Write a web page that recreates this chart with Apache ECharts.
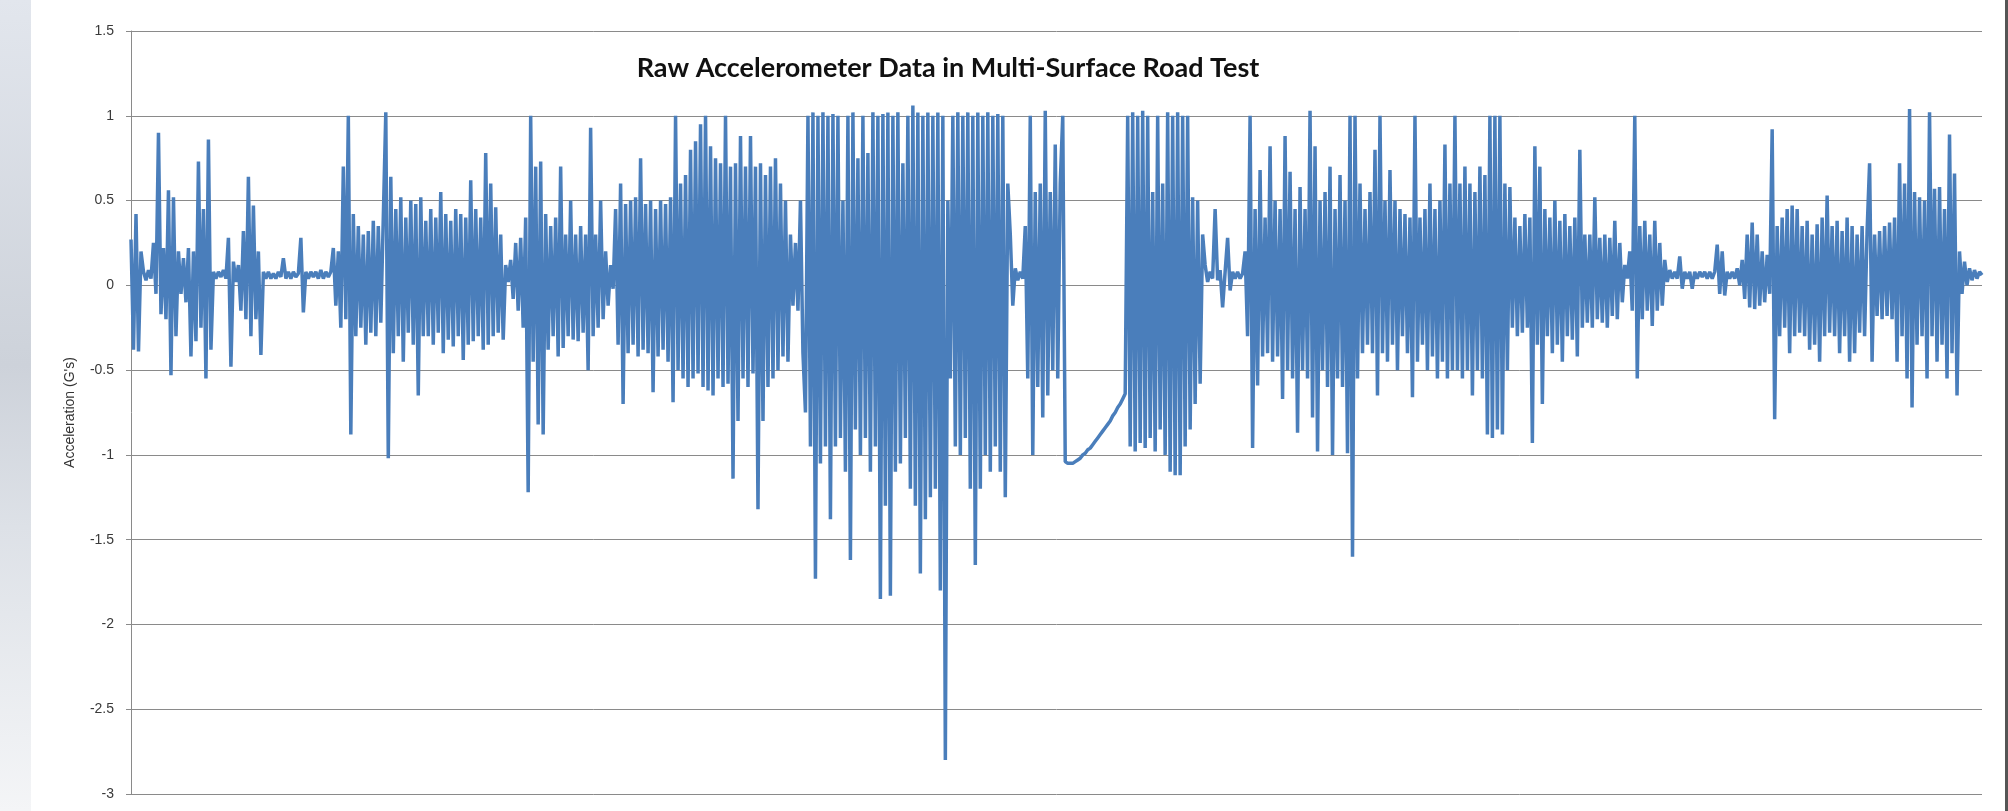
<!DOCTYPE html>
<html>
<head>
<meta charset="utf-8">
<title>Raw Accelerometer Data in Multi-Surface Road Test</title>
<script src="https://cdn.jsdelivr.net/npm/echarts@6.0.0/dist/echarts.min.js"></script>
<style>
    html, body { margin: 0; padding: 0; background: #fff; }
    #chart { width: 2008px; height: 811px; }
</style>
</head>
<body>
<div id="chart"></div>
<script>
    // acceleration samples (G's) left to right, one road stretch per array
    const startBumps = [0.27, -0.38, 0.42, -0.39, 0.2,
        0.08, 0.03, 0.09, 0.04,
        0.25, -0.05, 0.9, -0.17,
        0.22, -0.2, 0.56, -0.53, 0.52, -0.3,
        0.2, -0.05, 0.16, -0.1, 0.22, -0.42,
        0.2, -0.33, 0.73, -0.25, 0.45, -0.55, 0.86,
        -0.38, 0.08, 0.04, 0.08, 0.05, 0.09, 0.04,
        0.28, -0.48,
        0.14, 0.02, 0.12, -0.15, 0.32, -0.2, 0.64, -0.3, 0.47, -0.2, 0.2, -0.41,
        0.08, 0.04, 0.08, 0.04, 0.07, 0.04, 0.08, 0.05, 0.16, 0.04, 0.08, 0.04, 0.08, 0.05, 0.07,
        0.28, -0.16,
        0.08, 0.04, 0.08, 0.05, 0.08, 0.04, 0.09, 0.04, 0.08, 0.05, 0.08];

    const roughPatch1 = [0.22, -0.12, 0.2, -0.25, 0.7, -0.2,
        1.0, -0.88,
        0.42, -0.3, 0.35, -0.25, 0.3, -0.35, 0.32, -0.28, 0.38, -0.3, 0.35, -0.22, 0.4,
        1.02, -1.02,
        0.64, -0.4, 0.45, -0.3, 0.52, -0.45, 0.4, -0.28, 0.5, -0.35, 0.48, -0.65, 0.52, -0.3,
        0.38, -0.3, 0.45, -0.35, 0.4, -0.28, 0.55, -0.4, 0.42, -0.32, 0.38, -0.36, 0.45, -0.3, 0.42, -0.44,
        0.4, -0.35, 0.62, -0.33, 0.45, -0.3, 0.4, -0.38, 0.78, -0.35, 0.6, -0.3, 0.46, -0.28, 0.3, -0.32,
        0.12, 0.02];

    const roughPatch2 = [0.15, -0.08, 0.25, -0.15, 0.28, -0.25, 0.4, -1.22, 1.0, -0.45,
        0.7, -0.82, 0.73, -0.88, 0.42, -0.38, 0.35, -0.3, 0.4, -0.42,
        0.7, -0.37, 0.3, -0.3, 0.5, -0.32, 0.3, -0.33, 0.35, -0.28,
        0.3, -0.5, 0.93, -0.3, 0.3, -0.25, 0.5, -0.2, 0.2, -0.12, 0.12, -0.02,
        0.45, -0.35, 0.6, -0.7, 0.48, -0.4, 0.5, -0.35, 0.52, -0.42,
        0.75, -0.38, 0.48, -0.4, 0.5, -0.63, 0.45, -0.42, 0.5, -0.38,
        0.48, -0.45, 0.52, -0.69, 1.0, -0.5, 0.6, -0.55, 0.65, -0.6,
        0.8, -0.55, 0.85, -0.52, 0.95, -0.6, 1.0, -0.62, 0.82, -0.65,
        0.75, -0.55, 0.72, -0.6, 1.0, -0.58, 0.7, -1.14, 0.72, -0.8,
        0.88, -0.55, 0.7, -0.6, 0.88, -0.52, 0.7, -1.32, 0.72, -0.8,
        0.65, -0.6, 0.7, -0.55, 0.75, -0.5, 0.6, -0.42, 0.5, -0.45,
        0.3,
        -0.12, 0.25, -0.15, 0.5, -0.4];

    const heavyPatch1 = [-0.75, 1.0, -0.95, 1.02, -1.73, 1.0, -1.05, 1.02, -0.95, 1.0,
        -1.38, 1.01, -0.95, 1.0, -0.9, 0.5, -1.1, 1.0, -1.62, 1.02,
        -0.85, 0.75, -1.0, 1.0, -0.9, 0.78, -1.1, 1.02, -0.95, 1.0,
        -1.85, 1.01, -1.3, 1.02, -1.83, 1.0, -1.1, 1.02, -1.05, 0.72,
        -0.9, 1.0, -1.2, 1.06, -1.3, 1.02, -1.7, 1.0, -1.38, 1.02,
        -1.25, 1.0, -1.2, 1.02, -1.8, 1.0, -2.8, 0.5, -0.55, 1.0,
        -0.95, 1.02, -1.0, 1.0, -0.9, 1.02, -1.2, 1.0, -1.65, 1.02,
        -1.2, 1.0, -1.0, 1.02, -1.1, 1.0, -0.95, 1.01, -1.1, 1.0,
        -1.25, 0.6];

    const gapBurst = [0.3, -0.12, 0.1, 0.03, 0.08, 0.04, 0.35,
        -0.55, 1.0, -1.0, 0.55, -0.6, 0.6, -0.78, 1.03, -0.65, 0.55, -0.5, 0.83, -0.55, 0.6, 1.0];

    // sensor dropout: slow recovery curve
    const dropout = [-1.04, -1.05, -1.05, -1.05, -1.04, -1.03, -1.02, -1.0, -0.99, -0.97,
        -0.96, -0.94, -0.92, -0.9, -0.88, -0.86, -0.84, -0.82, -0.8, -0.77,
        -0.75, -0.72, -0.7, -0.67, -0.64];

    const heavyPatch2 = [1.0, -0.95, 1.02, -0.98, 1.0, -0.93, 1.03, -0.96, 1.0, -0.9,
        0.55, -0.98, 1.0, -0.85, 0.6, -1.0, 1.02, -1.1, 1.0, -1.12,
        1.02, -1.12, 1.0, -0.95, 1.0, -0.85, 0.52, -0.7, 0.5, -0.58,
        0.3];

    const quiet2 = [0.12, 0.02, 0.08, 0.04, 0.45, 0.03, 0.09, -0.13, 0.08, 0.28,
        -0.03, 0.08, 0.04, 0.08, 0.04, 0.07, 0.2];

    const roughPatch3 = [-0.3, 1.0, -0.96, 0.45, -0.59, 0.68, -0.42, 0.4, -0.4, 0.82,
        -0.45, 0.5, -0.42, 0.45, -0.67, 0.88, -0.5, 0.67, -0.55, 0.45,
        -0.87, 0.58, -0.5, 0.45, -0.55, 1.03, -0.78, 0.82, -0.98, 0.5,
        -0.5, 0.55, -0.6, 0.7, -1.0, 0.45, -0.55, 0.65, -0.6, 0.5,
        -0.99, 1.0, -1.6, 1.0, -0.55, 0.6, -0.4, 0.45,
        -0.35, 0.55, -0.4, 0.8, -0.65, 1.0, -0.4, 0.5, -0.45, 0.68,
        -0.35, 0.5, -0.5, 0.45, -0.3, 0.42, -0.4, 0.4, -0.66, 1.0,
        -0.45, 0.4, -0.35, 0.45, -0.5, 0.6, -0.42, 0.45, -0.55, 0.5,
        -0.45, 0.83, -0.55, 0.6, -0.5, 1.0, -0.5, 0.6, -0.55, 0.7,
        -0.5, 0.6, -0.65, 0.55, -0.5, 0.7, -0.55, 0.65, -0.88, 1.0,
        -0.9, 1.0, -0.85, 1.0, -0.88, 0.6,
        -0.5, 0.58, -0.25, 0.4, -0.3, 0.35, -0.28, 0.42, -0.25, 0.4,
        -0.93, 0.82, -0.35, 0.7, -0.7, 0.45, -0.3, 0.4, -0.4, 0.5,
        -0.35, 0.38, -0.45, 0.42, -0.3, 0.35, -0.32, 0.4, -0.42, 0.8,
        -0.25, 0.3, -0.22, 0.3, -0.25, 0.52, -0.2, 0.28, -0.22, 0.3,
        -0.25, 0.28, -0.18, 0.38, -0.2, 0.25, -0.1, 0.12];

    const tailBurst = [0.04, 0.2, -0.15, 1.0, -0.55, 0.35, -0.2, 0.38, -0.15, 0.3,
        -0.24, 0.38, -0.15, 0.25, -0.12, 0.15];

    const quiet3 = [0.02, 0.09, 0.04, 0.08, 0.04, 0.17, -0.02, 0.08, 0.04, 0.08,
        -0.02, 0.08, 0.04, 0.08, 0.05, 0.08, 0.04, 0.08, 0.04, 0.08,
        0.24, -0.05, 0.2, -0.06, 0.08, 0.04, 0.08, 0.04];

    const endPatch = [0.1, 0.0, 0.15, -0.08, 0.3, -0.13, 0.37, -0.14, 0.3, -0.12,
        0.2, -0.1, 0.18, -0.05,
        0.92, -0.79, 0.35, -0.3, 0.4, -0.25, 0.45, -0.4, 0.47, -0.3,
        0.45, -0.28, 0.35, -0.3, 0.38, -0.38, 0.3, -0.35, 0.36, -0.45,
        0.4, -0.3, 0.53, -0.28, 0.35, -0.3, 0.38, -0.4, 0.32, -0.3,
        0.4, -0.45, 0.35, -0.4, 0.3, -0.28, 0.35, -0.3, 0.32, 0.72,
        -0.45, 0.3, -0.18, 0.32, -0.2, 0.35, -0.18, 0.37, -0.2, 0.4,
        -0.45,
        0.72, -0.3, 0.6, -0.55, 1.04, -0.72, 0.55, -0.35, 0.52, -0.3,
        0.5, -0.55, 1.02, -0.3, 0.57, -0.45, 0.58, -0.35, 0.45, -0.55,
        0.89, -0.4, 0.66, -0.65,
        0.2, -0.05, 0.14, 0.0, 0.1, 0.03, 0.09, 0.04, 0.08, 0.06];

    const yTicks = { min: -3, max: 1.5, step: 0.5 };
    const titleText = 'Raw Accelerometer Data in Multi-Surface Road Test';
    const yName = "Acceleration (G's)";

    const accel = [].concat(startBumps, roughPatch1, roughPatch2, heavyPatch1, gapBurst,
        dropout, heavyPatch2, quiet2, roughPatch3, tailBurst, quiet3, endPatch);
    const samples = accel.map((v, i) => i);

    const chart = echarts.init(document.getElementById('chart'));
    const option = {
        animation: false,
        backgroundColor: '#fff',
        grid: {
            left: 131,
            right: 26,
            top: 31,
            bottom: 17
        },
        xAxis: {
            type: 'category',
            data: samples,
            boundaryGap: false,
            axisLine: { show: false },
            axisTick: { show: false },
            axisLabel: { show: false },
            splitLine: { show: false }
        },
        yAxis: {
            type: 'value',
            min: yTicks.min,
            max: yTicks.max,
            interval: yTicks.step,
            name: yName,
            nameLocation: 'middle',
            nameRotate: 90,
            nameGap: 54,
            nameTextStyle: {
                fontSize: 14,
                fontFamily: 'Liberation Sans, Arial, sans-serif',
                color: '#333'
            },
            axisLine: { show: true, lineStyle: { color: '#8a8a8a', width: 1 } },
            axisTick: { show: true, length: 5, lineStyle: { color: '#8a8a8a' } },
            axisLabel: {
                margin: 17,
                fontSize: 14,
                fontFamily: 'Liberation Sans, Arial, sans-serif',
                color: '#3a3a3a'
            },
            splitLine: { show: true, lineStyle: { color: '#8a8a8a', width: 1 } }
        },
        graphic: [
            {
                type: 'rect',
                left: 0,
                top: 0,
                z: -10,
                shape: { width: 31, height: 811 },
                style: {
                    fill: {
                        type: 'linear', x: 0, y: 0, x2: 0, y2: 1,
                        colorStops: [
                            { offset: 0, color: '#e2e6ed' },
                            { offset: 0.45, color: '#cdd2da' },
                            { offset: 0.65, color: '#dde1e7' },
                            { offset: 1, color: '#f4f5f7' }
                        ]
                    }
                }
            },
            {
                type: 'rect',
                left: 2005,
                top: 0,
                shape: { width: 3, height: 811 },
                style: { fill: '#555' }
            },
            {
                type: 'text',
                x: 948,
                y: 68,
                style: {
                    text: titleText,
                    fontSize: 27,
                    fontWeight: 'bold',
                    fontFamily: 'Lato, Liberation Sans, Arial, sans-serif',
                    fill: '#111',
                    align: 'center',
                    verticalAlign: 'middle'
                }
            }
        ],
        series: [
            {
                name: 'Acceleration',
                type: 'line',
                data: accel,
                showSymbol: false,
                symbol: 'none',
                lineStyle: { color: '#4a7ebb', width: 3.5, join: 'bevel' },
                itemStyle: { color: '#4a7ebb' }
            }
        ]
    };
    chart.setOption(option);
</script>
</body>
</html>
